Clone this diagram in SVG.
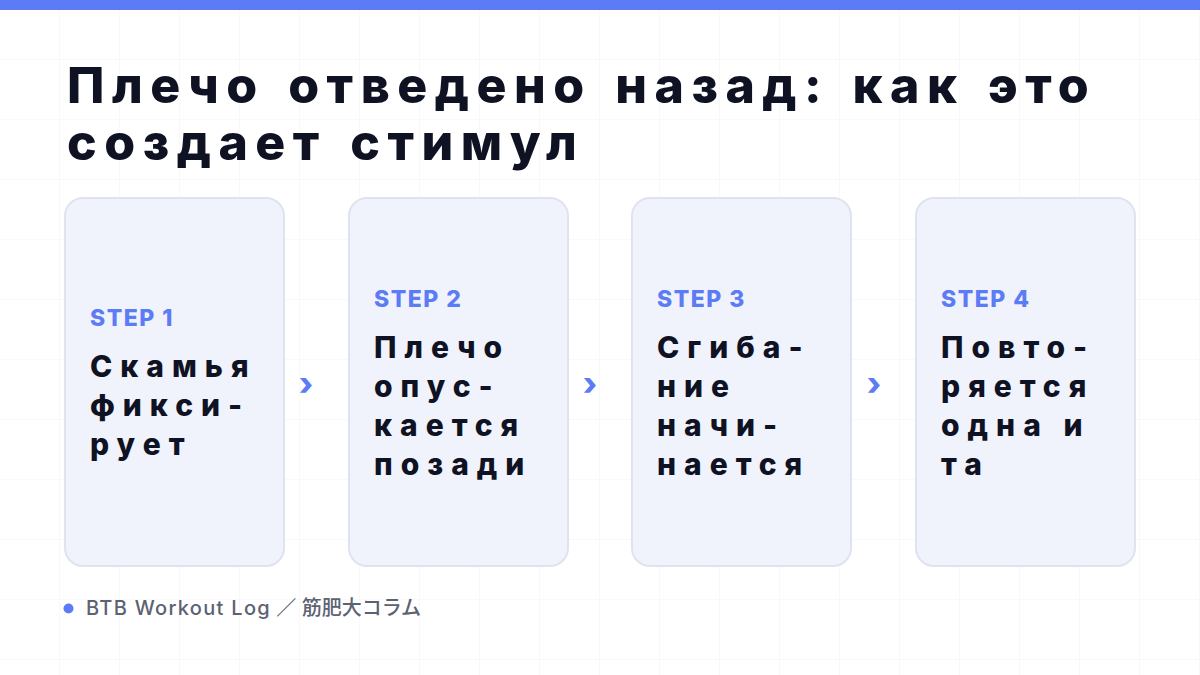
<svg xmlns="http://www.w3.org/2000/svg" width="1200" height="675" viewBox="0 0 1200 675">
<defs>
<pattern id="grid" width="60" height="60" patternUnits="userSpaceOnUse">
<path d="M60 0V60M0 60H60" fill="none" stroke="#f2f3f6" stroke-width="1"/>
</pattern>
</defs>
<style>
.title{font-family:Inter,"Noto Sans",sans-serif;font-weight:800;font-size:50px;fill:#0f1222;letter-spacing:7.5px;word-spacing:5px}
.card{fill:#f0f2fc;stroke:#dfe3f0;stroke-width:2}
.step{font-family:Inter,"Noto Sans",sans-serif;font-weight:800;font-size:23px;fill:#5b7cf5;letter-spacing:1.5px}
.body{font-family:Inter,"Noto Sans",sans-serif;font-weight:800;font-size:30px;fill:#0f1222;letter-spacing:8px}
.arrow{font-family:Inter,"Noto Sans",sans-serif;font-weight:800;font-size:32px;fill:#5b7cf5}
.foot{font-family:Inter,"Noto Sans","Noto Sans CJK JP",sans-serif;font-weight:500;font-size:20px;fill:#5d6272}
.lat{letter-spacing:1.3px}
</style>
<rect width="1200" height="675" fill="#ffffff"/>
<rect width="1200" height="675" fill="url(#grid)"/>
<rect x="0" y="0" width="1200" height="10" fill="#5b7cf6"/>
<g id="title">
<text class="title" x="67" y="103">Плечо отведено назад: как это</text>
<text class="title" x="67" y="160">создает стимул</text>
</g>
<g id="step1">
<rect class="card" x="65" y="198" width="219" height="368" rx="18"/>
<text class="step" x="90" y="326">STEP 1</text>
<text class="body" x="90" y="377">Скамья</text>
<text class="body" x="90" y="416">фикси-</text>
<text class="body" x="90" y="455">рует</text>
</g>
<g id="step2">
<rect class="card" x="349" y="198" width="219" height="368" rx="18"/>
<text class="step" x="374" y="307">STEP 2</text>
<text class="body" x="374" y="358">Плечо</text>
<text class="body" x="374" y="397">опус-</text>
<text class="body" x="374" y="436">кается</text>
<text class="body" x="374" y="475">позади</text>
</g>
<g id="step3">
<rect class="card" x="632" y="198" width="219" height="368" rx="18"/>
<text class="step" x="657" y="307">STEP 3</text>
<text class="body" x="657" y="358">Сгиба-</text>
<text class="body" x="657" y="397">ние</text>
<text class="body" x="657" y="436">начи-</text>
<text class="body" x="657" y="475">нается</text>
</g>
<g id="step4">
<rect class="card" x="916" y="198" width="219" height="368" rx="18"/>
<text class="step" x="941" y="307">STEP 4</text>
<text class="body" x="941" y="358">Повто-</text>
<text class="body" x="941" y="397">ряется</text>
<text class="body" x="941" y="436">одна и</text>
<text class="body" x="941" y="475">та</text>
</g>
<g id="connectors">
<text class="arrow" x="306" y="395" text-anchor="middle">›</text>
<text class="arrow" x="590" y="395" text-anchor="middle">›</text>
<text class="arrow" x="874" y="395" text-anchor="middle">›</text>
</g>
<g id="footer">
<circle cx="68.5" cy="608.5" r="5" fill="#5b7cf6"/>
<text class="foot" x="86" y="615"><tspan class="lat">BTB Workout Log</tspan> ／ 筋肥大コラム</text>
</g>
</svg>
